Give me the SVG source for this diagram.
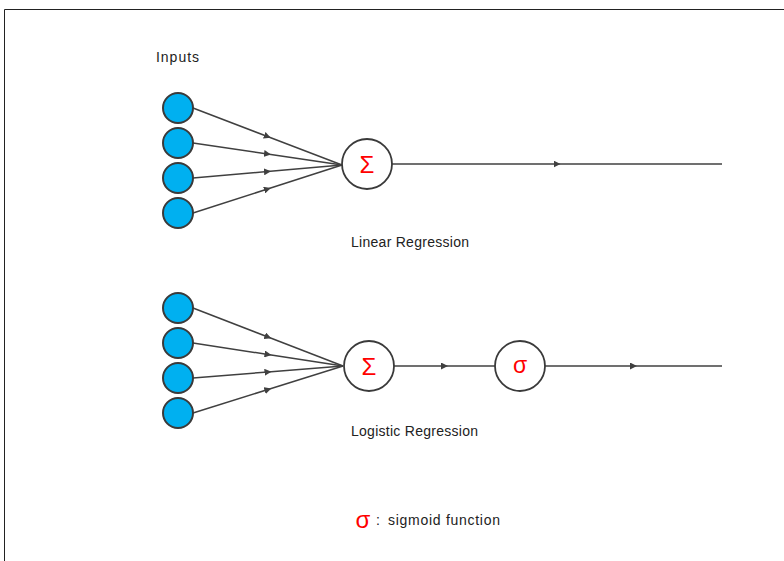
<svg xmlns="http://www.w3.org/2000/svg" width="784" height="561" viewBox="0 0 784 561">
<style>
.inp{fill:#00B0F0;stroke:#3a3a3a;stroke-width:2}
.op{fill:#fff;stroke:#3a3a3a;stroke-width:1.8}
.ln{fill:none;stroke:#404040;stroke-width:1.5;marker-mid:url(#ah)}
.sym{font-family:"Liberation Sans","DejaVu Sans",sans-serif;fill:#ff0000;text-anchor:middle}
.lbl{font-family:"Liberation Sans",Arial,sans-serif;font-size:14px;fill:#222}
</style>
<defs>
<marker id="ah" viewBox="0 0 10 10" refX="5" refY="5" markerWidth="7" markerHeight="7" markerUnits="userSpaceOnUse" orient="auto">
<path d="M0,0 L10,5 L0,10 z" fill="#404040"/>
</marker>
</defs>
<rect width="784" height="561" fill="#fff"/>
<path d="M4.5,561 V9.5 H784" fill="none" stroke="#222" stroke-width="1"/>
<g id="connectors">
<path class="ln" d="M193,108 L267.5,136.5 L342,165"/>
<path class="ln" d="M193,143 L267.5,154 L342,165"/>
<path class="ln" d="M193,178 L267.5,171.5 L342,165"/>
<path class="ln" d="M193,213 L267.5,189 L342,165"/>
<path class="ln" d="M392,164 L557,164 L722,164"/>
<path class="ln" d="M193,308 L268,337 L343,366"/>
<path class="ln" d="M193,343 L268,354.5 L343,366"/>
<path class="ln" d="M193,378 L268,372 L343,366"/>
<path class="ln" d="M193,413 L268,389.5 L343,366"/>
<path class="ln" d="M394,366 L444.5,366 L495,366"/>
<path class="ln" d="M545,366 L633.5,366 L722,366"/>
</g>
<g id="inputs-label"><text class="lbl" x="156" y="62" textLength="43">Inputs</text></g>
<g id="in1"><circle class="inp" cx="178" cy="108" r="15"/></g>
<g id="in2"><circle class="inp" cx="178" cy="143" r="15"/></g>
<g id="in3"><circle class="inp" cx="178" cy="178" r="15"/></g>
<g id="in4"><circle class="inp" cx="178" cy="213" r="15"/></g>
<g id="sum1"><circle class="op" cx="367" cy="164" r="25"/><text class="sym" x="367" y="173" font-size="24">Σ</text></g>
<g id="lin-label"><text class="lbl" x="351" y="247" textLength="118">Linear Regression</text></g>
<g id="in5"><circle class="inp" cx="178" cy="308" r="15"/></g>
<g id="in6"><circle class="inp" cx="178" cy="343" r="15"/></g>
<g id="in7"><circle class="inp" cx="178" cy="378" r="15"/></g>
<g id="in8"><circle class="inp" cx="178" cy="413" r="15"/></g>
<g id="sum2"><circle class="op" cx="369" cy="366" r="25"/><text class="sym" x="369" y="375" font-size="24">Σ</text></g>
<g id="sigma"><circle class="op" cx="520" cy="366" r="25"/><text class="sym" x="520" y="373" font-size="23">σ</text></g>
<g id="log-label"><text class="lbl" x="351" y="436" textLength="127">Logistic Regression</text></g>
<g id="legend"><text class="sym" x="363" y="528" font-size="24">σ</text><text class="lbl" x="376" y="525">:</text><text class="lbl" x="388" y="525" textLength="112">sigmoid function</text></g>
</svg>
